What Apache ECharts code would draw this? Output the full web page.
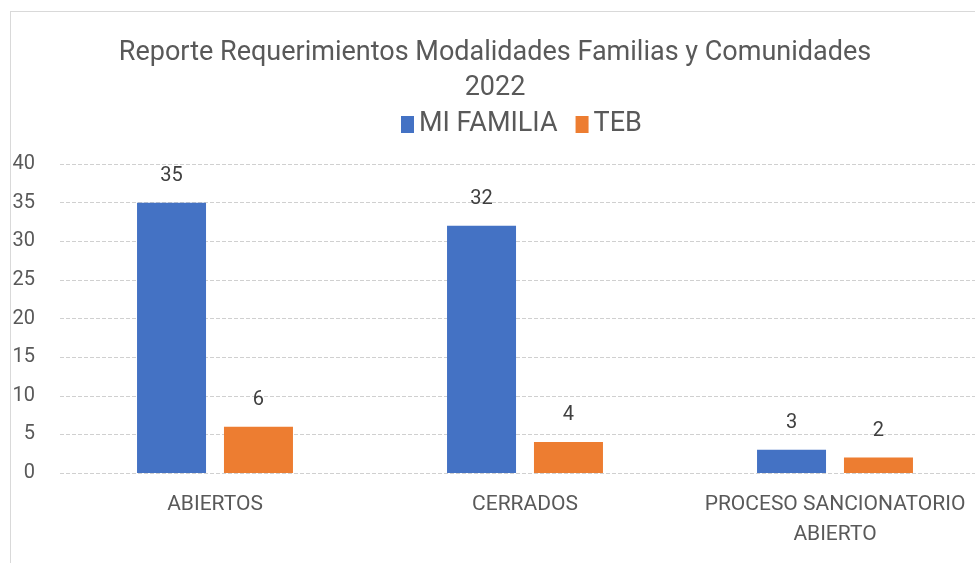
<!DOCTYPE html>
<html>
<head>
<meta charset="utf-8">
<script src="https://cdn.jsdelivr.net/npm/echarts@6/dist/echarts.min.js"></script>
<style>
  html, body { margin: 0; padding: 0; background: #fff; overflow: hidden; }
  #frame { position: absolute; left: 10px; top: 11px; width: 965px; height: 552px;
           border-left: 1px solid #d9d9d9; border-top: 1px solid #d9d9d9; }
  #chart { position: absolute; left: 0; top: 0; width: 990px; height: 563px; }
</style>
</head>
<body>
<div id="frame"></div>
<div id="chart"></div>
<script>
const categories = ['ABIERTOS', 'CERRADOS', 'PROCESO SANCIONATORIO\nABIERTO']
const miFamilia = [35, 32, 3]
const teb = [6, 4, 2]
const yTicks = { min: 0, max: 40, interval: 5 }

const font = 'Roboto, "Liberation Sans", sans-serif'
const chart = echarts.init(document.getElementById('chart'))

const option = {
  animation: false,
  textStyle: { fontFamily: font },
  title: {
    text: 'Reporte Requerimientos Modalidades Familias y Comunidades\n2022',
    left: 'center',
    top: 31,
    textStyle: { fontSize: 27, fontWeight: 'normal', color: '#595959', lineHeight: 35, fontFamily: font },
  },
  legend: {
    top: 106,
    left: 396,
    itemWidth: 13,
    itemHeight: 17,
    itemGap: 18,
    icon: 'rect',
    textStyle: { fontSize: 27, color: '#595959', fontFamily: font },
    data: ['MI FAMILIA', 'TEB'],
  },
  grid: { left: 60, right: 0, top: 164, height: 309 },
  xAxis: {
    type: 'category',
    data: categories,
    axisLine: { show: false },
    axisTick: { show: false },
    axisLabel: { interval: 0, fontSize: 21, color: '#595959', margin: 17, lineHeight: 30, fontFamily: font },
  },
  yAxis: {
    type: 'value',
    min: yTicks.min,
    max: yTicks.max,
    interval: yTicks.interval,
    axisLabel: { fontSize: 20, color: '#595959', margin: 25, fontFamily: font },
    splitLine: { lineStyle: { color: '#d0d0d0', type: 'dashed', width: 1 } },
  },
  series: [
    {
      name: 'MI FAMILIA',
      type: 'bar',
      data: miFamilia,
      barWidth: 69,
      barGap: '26%',
      itemStyle: { color: '#4472c4' },
      label: { show: true, position: 'top', distance: 17, fontSize: 20, color: '#404040', fontFamily: font },
    },
    {
      name: 'TEB',
      type: 'bar',
      data: teb,
      barWidth: 69,
      itemStyle: { color: '#ed7d31' },
      label: { show: true, position: 'top', distance: 17, fontSize: 20, color: '#404040', fontFamily: font },
    },
  ],
}

chart.setOption(option)
</script>
</body>
</html>
